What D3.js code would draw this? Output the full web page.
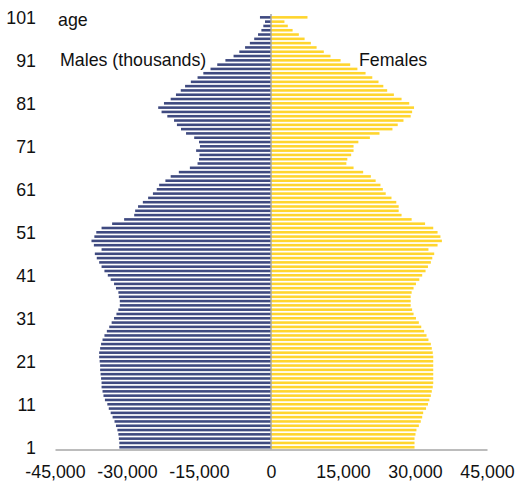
<!DOCTYPE html>
<html>
<head>
<meta charset="utf-8">
<script src="https://cdn.jsdelivr.net/npm/d3@7/dist/d3.min.js"></script>
<style>
  html, body { margin: 0; padding: 0; background: #fff; }
  svg { display: block; font-family: "Liberation Sans", Arial, sans-serif; }
</style>
</head>
<body>
<svg id="chart" width="518" height="481"></svg>
<script>
// Ages 1..101 (bottom to top)
const ages = d3.range(1, 102);
// Males, thousands, ages 1..101
const males = [31.6,31.6,31.7,31.8,32.0,32.3,32.6,33.0,33.4,33.8,
  34.1,34.6,34.9,35.1,35.3,35.3,35.4,35.5,35.6,35.6,
  35.7,35.8,35.8,35.6,35.4,35.1,34.7,34.2,33.7,33.2,
  32.7,32.2,31.8,31.5,31.5,31.7,31.8,32.3,32.7,33.4,
  34.0,34.7,35.3,35.8,36.3,36.7,35.3,36.9,37.4,36.8,
  36.4,35.3,33.1,30.6,28.5,28.3,27.7,26.7,25.6,24.6,
  23.8,23.3,22.0,20.9,19.2,16.9,15.3,15.0,14.9,15.6,
  14.8,15.0,16.0,17.7,18.75,19.6,20.2,21.6,22.8,23.5,
  22.3,20.9,19.8,18.8,17.9,16.7,15.3,14.1,12.6,11.2,
  9.5,7.8,6.6,5.4,4.4,3.5,2.7,2.0,1.6,1.25,2.3];
// Females, thousands, ages 1..101
const females = [29.9,29.9,29.9,30.1,30.3,30.8,31.2,31.5,31.7,32.3,
  32.7,33.0,33.3,33.5,33.7,33.8,33.8,33.8,33.8,33.8,
  33.8,33.8,33.7,33.5,33.3,32.8,32.4,31.9,31.3,30.8,
  30.2,29.7,29.4,29.1,29.1,29.1,29.3,29.7,30.2,30.9,
  31.5,32.2,32.7,33.3,33.6,34.0,32.8,34.7,35.6,35.3,
  34.7,33.8,32.1,29.3,27.2,26.6,26.6,26.1,25.1,23.9,
  23.3,22.8,21.8,20.8,19.2,17.2,15.7,15.9,16.7,17.2,
  17.2,18.2,20.6,22.6,25.3,26.4,27.6,29.1,29.4,29.8,
  28.8,27.2,25.6,24.2,23.4,22.4,21.1,19.7,18.0,16.5,
  14.5,12.4,11.0,9.5,8.3,7.0,5.8,4.5,3.5,2.8,7.6];
const xTicks = [-45000, -30000, -15000, 0, 15000, 30000, 45000];
const yTickAges = [1, 11, 21, 31, 41, 51, 61, 71, 81, 91, 101];

const maleColor = "#3f4a80";
const femaleColor = "#ffd52e";
const fontSize = "17.8px";

const svg = d3.select("#chart");

const x = d3.scaleLinear().domain([-45000, 45000]).range([55, 487]);
const y = d3.scaleBand().domain(ages.slice().reverse()).range([15.2, 449.4]).paddingInner(0.4).paddingOuter(0.2);

const data = ages.map((a, i) => ({ age: a, m: males[i] * 1000, f: females[i] * 1000 }));

// Bars
svg.append("g").selectAll("rect.m").data(data).join("rect")
  .attr("class", "m")
  .attr("x", d => x(-d.m))
  .attr("width", d => x(0) - x(-d.m))
  .attr("y", d => y(d.age))
  .attr("height", y.bandwidth())
  .attr("fill", maleColor);

svg.append("g").selectAll("rect.f").data(data).join("rect")
  .attr("class", "f")
  .attr("x", x(0))
  .attr("width", d => x(d.f) - x(0))
  .attr("y", d => y(d.age))
  .attr("height", y.bandwidth())
  .attr("fill", femaleColor);

// Center line
svg.append("line")
  .attr("x1", x(0)).attr("x2", x(0))
  .attr("y1", y(101) - 2).attr("y2", 449.5)
  .attr("stroke", "#a6a6a6").attr("stroke-width", 1.5);

// X axis
const fmt = d3.format(",");
const xAxis = d3.axisBottom(x).tickValues(xTicks).tickSize(0).tickPadding(0)
  .tickFormat(d => fmt(d).replace("\u2212", "-"));
const gx = svg.append("g").attr("transform", "translate(0,449.5)").call(xAxis);
gx.select(".domain").attr("stroke", "#a6a6a6").attr("stroke-width", 1.5);
gx.selectAll("text")
  .attr("y", 28.5)
  .attr("dy", 0)
  .attr("fill", "#111")
  .style("font-size", fontSize)
  .style("font-family", "'Liberation Sans', Arial, sans-serif");

// Y axis (labels only)
const yAxis = d3.axisLeft(y).tickValues(yTickAges).tickSize(0).tickPadding(0);
const gy = svg.append("g").attr("transform", "translate(36,0)").call(yAxis);
gy.select(".domain").remove();
gy.selectAll("text")
  .attr("fill", "#111")
  .attr("dy", "0.38em")
  .style("font-size", fontSize)
  .style("font-family", "'Liberation Sans', Arial, sans-serif");

// Labels
const lab = (t, xx, yy) => svg.append("text").attr("x", xx).attr("y", yy)
  .attr("fill", "#111").style("font-size", fontSize).text(t);
lab("age", 58, 25.5);
lab("Males (thousands)", 60, 65.5);
lab("Females", 359, 65.5);
</script>
</body>
</html>
